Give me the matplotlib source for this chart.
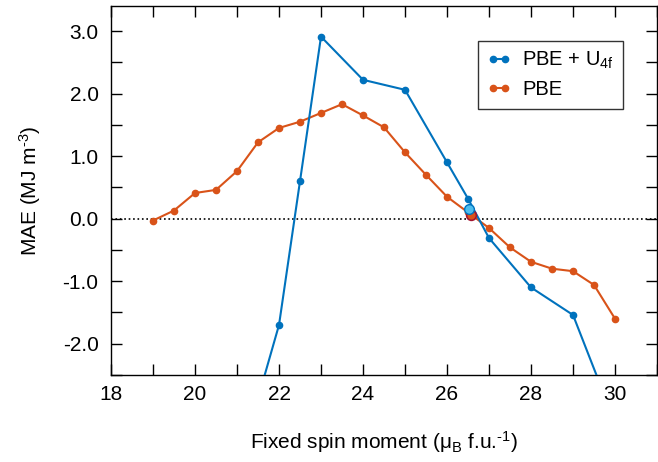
import numpy as np
import matplotlib
matplotlib.use("Agg")
import matplotlib.pyplot as plt
from matplotlib.ticker import MultipleLocator, FormatStrFormatter

plt.rcParams['font.family'] = ['Liberation Sans', 'DejaVu Sans']
plt.rcParams['mathtext.default'] = 'regular'
plt.rcParams['axes.unicode_minus'] = False

# PBE + U4f
x_u = [21.0, 22.0, 22.5, 23.0, 24.0, 25.0, 26.0, 26.5, 27.0, 28.0, 29.0, 30.0]
mae_u = [-4.05, -1.70, 0.60, 2.91, 2.22, 2.06, 0.90, 0.32, -0.31, -1.10, -1.54, -3.26]

# PBE
x_pbe = [19.0, 19.5, 20.0, 20.5, 21.0, 21.5, 22.0, 22.5, 23.0, 23.5, 24.0, 24.5,
         25.0, 25.5, 26.0, 26.5, 27.0, 27.5, 28.0, 28.5, 29.0, 29.5, 30.0]
mae_pbe = [-0.03, 0.13, 0.41, 0.46, 0.76, 1.22, 1.45, 1.55, 1.69, 1.83, 1.65, 1.46,
           1.06, 0.70, 0.35, 0.10, -0.15, -0.46, -0.69, -0.80, -0.84, -1.06, -1.60]

# zero crossings (highlighted)
x_cross_u, y_cross_u = 26.53, 0.16
x_cross_pbe, y_cross_pbe = 26.56, 0.065

blue = '#0072BD'
orange = '#D95319'

fig = plt.figure(figsize=(6.58, 4.62), dpi=100)
ax = fig.add_axes([0.1687, 0.1883, 0.8298, 0.7987])

ax.axhline(0, color='black', linestyle=':', linewidth=1.2, zorder=1)

ax.plot(x_u, mae_u, '-o', color=blue, lw=1.5, ms=4.5, label=r'PBE + U$_{4f}$', zorder=3)
ax.plot(x_pbe, mae_pbe, '-o', color=orange, lw=1.5, ms=4.5, label='PBE', zorder=2)

ax.plot([x_cross_pbe], [y_cross_pbe], 'o', color=orange, mec='#A2142F', mew=1.2, ms=7, zorder=4)
ax.plot([x_cross_u], [y_cross_u], 'o', color='#4DBEEE', mec=blue, mew=1.0, ms=7, zorder=5)

ax.set_xlim(18, 31)
ax.set_ylim(-2.5, 3.4)
ax.xaxis.set_major_locator(MultipleLocator(2))
ax.xaxis.set_minor_locator(MultipleLocator(1))
ax.yaxis.set_major_locator(MultipleLocator(1))
ax.yaxis.set_minor_locator(MultipleLocator(0.5))
ax.yaxis.set_major_formatter(FormatStrFormatter('%.1f'))

ax.tick_params(which='both', direction='in', top=True, right=True, length=8, width=1,
               labelsize=15)
ax.tick_params(axis='x', pad=7)
ax.tick_params(axis='y', pad=9)
for s in ax.spines.values():
    s.set_linewidth(1)

ax.set_xlabel('Fixed spin moment (μ$_B$ f.u.$^{\u20101}$)', fontsize=15, labelpad=18)
ax.set_ylabel('MAE (MJ m$^{\u20103}$)', fontsize=15, labelpad=14)

leg = ax.legend(loc='upper right', bbox_to_anchor=(0.938, 0.905), borderaxespad=0,
                fontsize=14.5, numpoints=2, fancybox=False, framealpha=1,
                edgecolor='#333333', handlelength=1.2, handletextpad=0.55,
                borderpad=0.45, labelspacing=0.45)
leg.get_frame().set_linewidth(1)

fig.savefig('out.png', dpi=100)
